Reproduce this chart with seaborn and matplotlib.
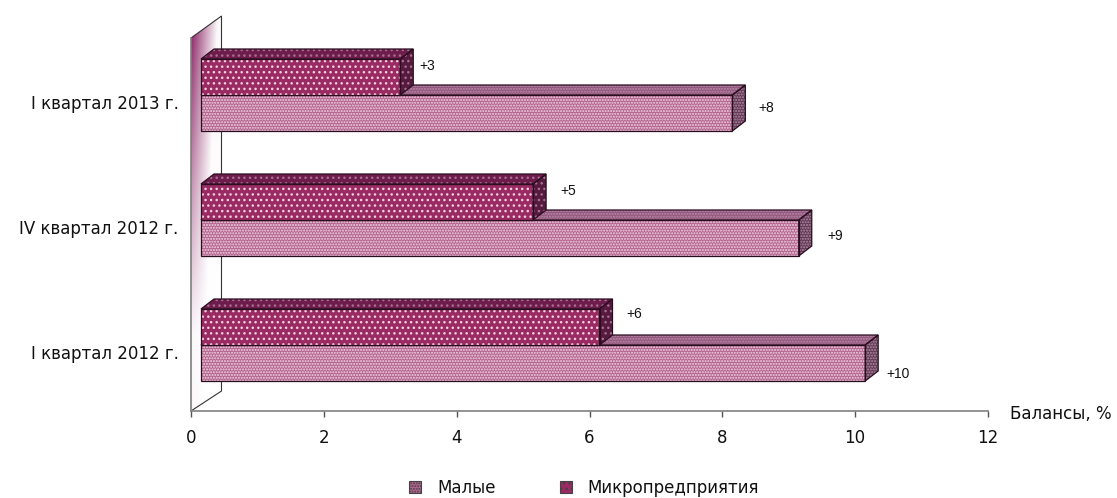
import numpy as np
import pandas as pd
import matplotlib
matplotlib.use("Agg")
import matplotlib.pyplot as plt
import seaborn as sns
from matplotlib.patches import Polygon, Patch, Rectangle
from matplotlib.transforms import Affine2D, IdentityTransform, ScaledTranslation

categories = ["I квартал 2013 г.", "IV квартал 2012 г.", "I квартал 2012 г."]
small_values = [8, 9, 10]
micro_values = [3, 5, 6]
series_names = ["Малые", "Микропредприятия"]
x_ticks = [0, 2, 4, 6, 8, 10, 12]
small_label_offsets = [(34, -5), (36, -2), (33, 11)]
micro_label_offsets = [(27, -11), (35, -11), (35, -13)]

W, H, DPI = 1117, 498, 100
sns.set_theme(style="white", rc={"axes.facecolor": "none"})
plt.rcParams["font.family"] = ["DejaVu Sans"]
plt.rcParams["hatch.linewidth"] = 1.0
narrow = ["Liberation Sans"]
FS = 12

fig = plt.figure(figsize=(W / DPI, H / DPI), dpi=DPI, facecolor="white")
L, R, T, B = 191, 988, 38, 411
ax = fig.add_axes([L / W, 1 - B / H, (R - L) / W, (B - T) / H], zorder=2)


def px(x, y):
    return (x, H - y)


df = pd.DataFrame({
    "cat": categories * 2,
    "val": micro_values + small_values,
    "ser": [series_names[1]] * 3 + [series_names[0]] * 3,
})
STY = {
    series_names[0]: dict(face="#B5648F", dots="#EFD6E3", hatch="......",
                          top="#94587E", side="#5E3A54", tdots="#B88AA8"),
    series_names[1]: dict(face="#9A2A62", dots="#F3CFE0", hatch="...",
                          top="#6E1C4C", side="#561A3E", tdots="#A87090"),
}
sns.barplot(data=df, y="cat", x="val", hue="ser", order=categories,
            hue_order=[series_names[1], series_names[0]],
            palette={s: STY[s]["face"] for s in series_names},
            saturation=1, width=0.576, gap=0, legend=False, ax=ax,
            edgecolor="white", linewidth=0)

ax.set_xlim(0, 12)
ax.set_ylim(2 + 66 / 125, -57 / 125)
ax.set_xticks(x_ticks)
ax.set_ylabel("")
sns.despine(ax=ax, top=True, right=True)
for side_name in ("left", "bottom"):
    ax.spines[side_name].set_color("#808080")
    ax.spines[side_name].set_linewidth(1.2)
ax.tick_params(axis="x", length=4, width=1.0, color="#555555", pad=9,
               labelsize=FS, labelcolor="#111111", bottom=True)
ax.tick_params(axis="y", length=0, pad=9, labelsize=FS, labelcolor="#111111")
shift_lbl = ScaledTranslation(0, -7 / DPI, fig.dpi_scale_trans)
for lbl in ax.get_yticklabels():
    lbl.set_transform(lbl.get_transform() + shift_lbl)

ax.set_xlabel("Балансы, %", fontsize=FS, color="#111111", ha="left", va="center")
ax.xaxis.set_label_coords((1010 - L) / (R - L), (B - 414) / (B - T))

# gradient side wall, drawn in its own image axes behind everything
wall_ax = fig.add_axes([L / W, 1 - B / H, 31 / W, (B - 16) / H], zorder=1)
wall_ax.axis("off")
n = 400
xx = np.linspace(0, 1, 60)[None, :]
yy = np.linspace(0, 1, n)[:, None]
rgba = np.ones((n, 60, 4))
rgba[..., 0], rgba[..., 1], rgba[..., 2] = 0.56, 0.16, 0.41
alpha_x = np.clip(1 - xx * (1.1 + 1.0 * yy), 0.03, 1)
alpha_y = np.clip(1.05 - 1.25 * yy, 0.04, 1)
rgba[..., 3] = alpha_x * alpha_y
wall_ax.imshow(rgba, aspect="auto", interpolation="bilinear")
wall_pts = [px(191, 38), px(221.5, 16), px(221.5, 391), px(191, 411)]
clip = Polygon(wall_pts, closed=True, transform=IdentityTransform())
wall_ax.images[0].set_clip_path(clip)
fig.add_artist(Polygon(wall_pts, closed=False, fill=False, edgecolor="#333333",
                       lw=0.8, transform=IdentityTransform(), zorder=1.5))

# shift the fronts of the bars by the wall offset and add 3D faces
shift_px = 10
DX, DY = 13, 10
shift = Affine2D().translate(shift_px, 0)
containers = {series_names[1]: ax.containers[0], series_names[0]: ax.containers[1]}
layers = {series_names[0]: 3, series_names[1]: 6}
for name, offs in ((series_names[0], small_label_offsets), (series_names[1], micro_label_offsets)):
    st = STY[name]
    z = layers[name]
    for bar, (ox, oy) in zip(containers[name], offs):
        bar.set_transform(ax.transData + shift)
        bar.set_hatch(st["hatch"])
        bar.set_edgecolor(st["dots"])
        bar.set_linewidth(0)
        bar.set_zorder(z)
        bar.set_clip_on(False)
        x0, y0 = bar.get_x(), bar.get_y()
        x1, y1 = x0 + bar.get_width(), y0 + bar.get_height()
        (a, b), (c, d) = ax.transData.transform([(x0, y0), (x1, y1)])
        a += shift_px
        c += shift_px
        top_y, bot_y = max(b, d), min(b, d)
        top = [(a, top_y), (c, top_y), (c + DX, top_y + DY), (a + DX, top_y + DY)]
        side = [(c, top_y), (c + DX, top_y + DY), (c + DX, bot_y + DY), (c, bot_y)]
        for pts, col in ((top, st["top"]), (side, st["side"])):
            ax.add_patch(Polygon(pts, closed=True, transform=IdentityTransform(),
                                 facecolor=col, edgecolor=st["tdots"], hatch=st["hatch"],
                                 lw=0, zorder=z - 1, clip_on=False))
            ax.add_patch(Polygon(pts, closed=True, transform=IdentityTransform(),
                                 facecolor="none", edgecolor="#2A0E20", lw=0.9,
                                 zorder=z + 0.5, clip_on=False))
        ax.add_patch(Rectangle((a, bot_y), c - a, top_y - bot_y, transform=IdentityTransform(),
                               facecolor="none", edgecolor="#2A0E20", lw=0.9,
                               zorder=z + 0.5, clip_on=False))
        val = int(round(bar.get_width()))
        ax.text(c + ox, (top_y + bot_y) / 2 - oy, f"+{val}", transform=IdentityTransform(),
                ha="center", va="center", fontsize=10, family=narrow, color="#111111",
                zorder=9)

handles = [Patch(facecolor=STY[s]["face"], edgecolor=STY[s]["dots"], hatch=STY[s]["hatch"], lw=0)
           for s in series_names]
leg = fig.legend(handles, series_names, loc="center left",
                 bbox_to_anchor=(409 / W, 1 - 488 / H), ncols=2, frameon=False,
                 fontsize=FS, handlelength=0.72, handleheight=0.72,
                 handletextpad=0.96, columnspacing=3.84, labelcolor="#111111",
                 borderpad=0, borderaxespad=0)
for h in leg.legend_handles:
    h.set_linewidth(0.8)
    h.set_edgecolor("#444444")

fig.savefig("out.png", dpi=DPI)
